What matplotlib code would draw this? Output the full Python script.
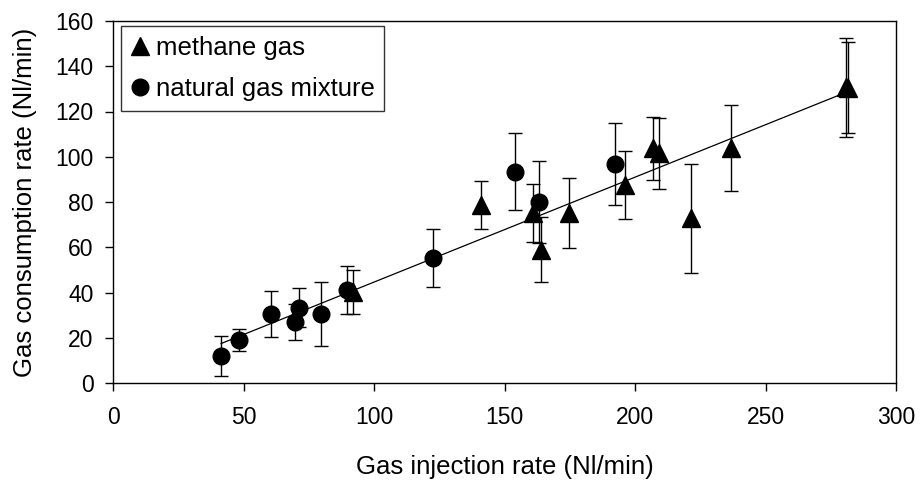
import matplotlib
matplotlib.use("Agg")
import matplotlib.pyplot as plt

plt.rcParams['font.family'] = ['Liberation Sans', 'DejaVu Sans']

# methane gas (triangles)
methane_x = [92.1, 141.1, 161.0, 164.1, 174.8, 196.3, 207.0, 209.1, 221.5, 236.8, 280.8, 281.5]
methane_y = [40.4, 78.7, 75.0, 59.0, 75.0, 87.5, 103.7, 101.5, 72.8, 103.7, 130.7, 130.5]
methane_err = [9.7, 10.5, 12.9, 14.2, 15.4, 15.0, 14.0, 15.6, 24.0, 19.0, 22.0, 20.0]

# natural gas mixture (circles)
natural_x = [41.4, 48.3, 60.5, 69.8, 71.4, 79.6, 89.5, 122.7, 154.0, 163.1, 192.4]
natural_y = [11.9, 19.0, 30.5, 27.0, 33.3, 30.5, 41.0, 55.1, 93.3, 80.1, 96.8]
natural_err = [8.8, 5.0, 10.0, 8.0, 8.5, 14.0, 10.7, 12.8, 17.0, 18.2, 18.0]

# linear trend line
fit_slope = 0.4637
fit_intercept = -1.77

x_ticks = [0, 50, 100, 150, 200, 250, 300]
y_ticks = [0, 20, 40, 60, 80, 100, 120, 140, 160]

fig = plt.figure(figsize=(9.21, 4.82), dpi=100)
ax = fig.add_axes([113 / 921, 1 - 383 / 482, 783 / 921, 362 / 482])

todos_x = methane_x + natural_x
x0, x1 = min(todos_x), max(todos_x)
ax.plot([x0, x1], [fit_slope * x0 + fit_intercept, fit_slope * x1 + fit_intercept],
        color='black', linewidth=0.9, zorder=2)

for xs, ys, es in [(methane_x, methane_y, methane_err), (natural_x, natural_y, natural_err)]:
    ax.errorbar(xs, ys, yerr=es, fmt='none', ecolor='black', elinewidth=1.0,
                capsize=4.8, capthick=1.0, zorder=3)

ax.plot(methane_x, methane_y, linestyle='none', marker='^', markersize=13,
        color='black', label='methane gas', zorder=4)
ax.plot(natural_x, natural_y, linestyle='none', marker='o', markersize=12,
        color='black', label='natural gas mixture', zorder=4)

ax.set_xlim(0, 300)
ax.set_ylim(0, 160)
ax.set_xticks(x_ticks)
ax.set_yticks(y_ticks)
ax.tick_params(direction='out', length=5.5, width=1, labelsize=16.5)
ax.tick_params(axis='x', pad=11)
ax.tick_params(axis='y', pad=8.5)
for s in ax.spines.values():
    s.set_linewidth(1.0)
    s.set_color('black')

ax.set_xlabel('Gas injection rate (Nl/min)', fontsize=18.5, labelpad=19)
ax.set_ylabel('Gas consumption rate (Nl/min)', fontsize=18.5, labelpad=13)

leg = ax.legend(loc='upper left', bbox_to_anchor=(0.0102, 0.986), borderaxespad=0,
                fontsize=18.5, frameon=True, fancybox=False, edgecolor='black',
                handlelength=0.7, handletextpad=0.27, labelspacing=0.67,
                borderpad=0.38, markerscale=1.0)
leg.get_frame().set_linewidth(1.0)

fig.savefig('out.png', dpi=100)
